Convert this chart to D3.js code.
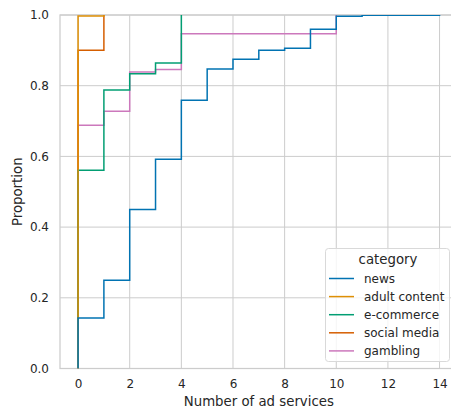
<!DOCTYPE html>
<html>
<head>
<meta charset="utf-8">
<script src="https://cdn.jsdelivr.net/npm/d3@7"></script>
<style>
  body { margin: 0; background: #fff; }
  svg { display: block; font-family: "DejaVu Sans", sans-serif; }
</style>
</head>
<body>
<svg width="451" height="411"></svg>
<script>
/* data */
var categories = ["news", "adult content", "e-commerce", "social media", "gambling"]
var colors = ["#0173b2", "#de8f05", "#029e73", "#d55e00", "#cc78bc"]

var news_x = [0, 1, 2, 3, 4, 5, 6, 7, 8, 9, 10, 11, 14]
var news_y = [0.143, 0.25, 0.45, 0.592, 0.759, 0.847, 0.875, 0.9, 0.906, 0.96, 0.9965, 0.999, 1.0]
var adult_x = [0, 1]
var adult_y = [0.997, 1.0]
var ecom_x = [0, 1, 2, 3, 4]
var ecom_y = [0.561, 0.788, 0.834, 0.864, 1.0]
var social_x = [0, 1]
var social_y = [0.9, 1.0]
var gamb_x = [0, 1, 2, 3, 4, 10]
var gamb_y = [0.688, 0.728, 0.839, 0.846, 0.947, 1.0]

var x_ticks = [0, 2, 4, 6, 8, 10, 12, 14]
var y_ticks = [0, 0.2, 0.4, 0.6, 0.8, 1.0]

var series = [
  {name: categories[0], xs: news_x, ys: news_y},
  {name: categories[1], xs: adult_x, ys: adult_y},
  {name: categories[2], xs: ecom_x, ys: ecom_y},
  {name: categories[3], xs: social_x, ys: social_y},
  {name: categories[4], xs: gamb_x, ys: gamb_y}
]

/* layout (plot_ prefix: "top" is taken by window.top) */
var plot_left = 60, plot_top = 15, plot_bottom = 368.5
var unit = 25.82
var plot_right = plot_left + unit * 15.4

var x = d3.scaleLinear().domain([-0.7, 14.7]).range([plot_left, plot_right])
var y = d3.scaleLinear().domain([0, 1]).range([plot_bottom, plot_top])

var svg = d3.select("svg")
var grid = "#cccccc"
var textc = "#262626"

/* grid */
svg.append("g").selectAll("line").data(x_ticks).enter().append("line")
  .attr("x1", d => x(d)).attr("x2", d => x(d))
  .attr("y1", plot_top).attr("y2", plot_bottom)
  .attr("stroke", grid).attr("stroke-width", 1)

svg.append("g").selectAll("line").data(y_ticks).enter().append("line")
  .attr("x1", plot_left).attr("x2", plot_right)
  .attr("y1", d => y(d)).attr("y2", d => y(d))
  .attr("stroke", grid).attr("stroke-width", 1)

/* frame */
svg.append("rect")
  .attr("x", plot_left).attr("y", plot_top)
  .attr("width", plot_right - plot_left).attr("height", plot_bottom - plot_top)
  .attr("fill", "none").attr("stroke", grid).attr("stroke-width", 1.25)

/* tick labels */
var xAxis = d3.axisBottom(x).tickValues(x_ticks).tickSize(0).tickPadding(11)
  .tickFormat(d3.format("d"))
var gx = svg.append("g").attr("transform", "translate(0," + plot_bottom + ")").call(xAxis)
gx.select(".domain").remove()
gx.selectAll("text").attr("fill", textc).style("font-size", "12px")
  .style("font-family", "DejaVu Sans")

var yAxis = d3.axisLeft(y).tickValues(y_ticks).tickSize(0).tickPadding(11)
  .tickFormat(d3.format(".1f"))
var gy = svg.append("g").attr("transform", "translate(" + plot_left + ",0)").call(yAxis)
gy.select(".domain").remove()
gy.selectAll("text").attr("fill", textc).style("font-size", "12px")
  .style("font-family", "DejaVu Sans")

/* axis titles */
svg.append("text").text("Number of ad services")
  .attr("x", (plot_left + plot_right) / 2).attr("y", 406)
  .attr("text-anchor", "middle").attr("fill", textc).style("font-size", "13.3px")

svg.append("text").text("Proportion")
  .attr("transform", "translate(22," + ((plot_top + plot_bottom) / 2) + ") rotate(-90)")
  .attr("text-anchor", "middle").attr("fill", textc).style("font-size", "13.3px")

/* ecdf step lines, drawn in reverse so news sits on top */
svg.append("clipPath").attr("id", "plotclip").append("rect")
  .attr("x", plot_left).attr("y", plot_top)
  .attr("width", plot_right - plot_left).attr("height", plot_bottom - plot_top)

var step = d3.line().x(d => x(d[0])).y(d => y(d[1])).curve(d3.curveStepAfter)

var lines = svg.append("g").attr("clip-path", "url(#plotclip)")
series.slice().reverse().forEach(function(s) {
  var pts = [[s.xs[0], 0]].concat(s.xs.map((v, i) => [v, s.ys[i]]))
  lines.append("path")
    .attr("d", step(pts))
    .attr("fill", "none")
    .attr("stroke", colors[categories.indexOf(s.name)])
    .attr("stroke-width", 1.5)
})

/* legend */
var lg = svg.append("g")
lg.append("rect")
  .attr("x", 325.5).attr("y", 248.5).attr("width", 124).attr("height", 113)
  .attr("rx", 3).attr("fill", "#fff").attr("fill-opacity", 0.8)
  .attr("stroke", "#d9d9d9").attr("stroke-width", 1)
lg.append("text").text("category")
  .attr("x", 388).attr("y", 264).attr("text-anchor", "middle")
  .attr("fill", textc).style("font-size", "13.3px")

categories.forEach(function(c, i) {
  var ly = 278.5 + i * 18.1
  lg.append("line")
    .attr("x1", 329).attr("x2", 354).attr("y1", ly).attr("y2", ly)
    .attr("stroke", colors[i]).attr("stroke-width", 1.5)
  lg.append("text").text(c)
    .attr("x", 364).attr("y", ly + 4)
    .attr("fill", textc).style("font-size", "12px")
})
</script>
</body>
</html>
